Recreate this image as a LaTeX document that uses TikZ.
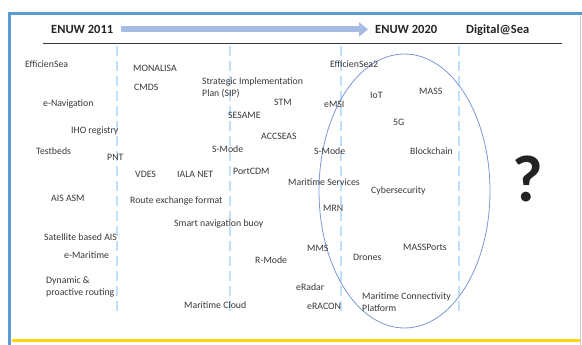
\documentclass[tikz,border=0pt]{standalone}
\usepackage{fontspec}
\setmainfont{Carlito}
\usetikzlibrary{arrows.meta}
\definecolor{framebl}{RGB}{91,155,213}
\definecolor{sepbl}{RGB}{190,224,250}
\definecolor{ellbl}{RGB}{122,150,212}
\definecolor{arrbl}{RGB}{166,188,226}
\definecolor{txtgr}{RGB}{55,55,55}
\definecolor{hdrgr}{RGB}{35,35,35}
\definecolor{goldln}{RGB}{255,214,10}
\tikzset{lbl/.style={anchor=base west,inner sep=0pt,text=txtgr,align=left,font=\fontsize{9.8}{12}\selectfont},
  hdr/.style={anchor=base west,inner sep=0pt,text=hdrgr,font=\bfseries\fontsize{12.5}{14}\selectfont},
  sepline/.style={sepbl,line width=1.4pt,dash pattern=on 10pt off 5pt},
  timearrow/.style={arrbl,line width=6pt,-{Triangle[length=9pt,width=14pt]}}}

\begin{document}
\begin{tikzpicture}[x=1pt,y=-1pt]
\useasboundingbox (0,0) rectangle (582,345);
% frame of the slide
\draw[framebl,line width=2.5pt] (8,13.5)--(582,13.5);
\draw[framebl,line width=3.5pt] (9.5,12.5)--(9.5,345);
\draw[gray!40,line width=.6pt] (580.5,15)--(580.5,345);
\draw[goldln,line width=2.2pt] (11.5,340.5)--(580,340.5);

% time line
\node[hdr] (enuw11) at (51,33.5) {ENUW 2011};
\node[hdr] (enuw20) at (375,33.5) {ENUW 2020};
\node[hdr] (digsea) at (466,33.5) {Digital@Sea};
\draw[timearrow,shorten <=8pt,shorten >=7pt] (enuw11.east)--(enuw20.west);
\draw[txtgr,line width=.9pt] (43,43)--(562,43);
\foreach \x in {117,230,341,459}
  \draw[sepline] (\x,46)--(\x,313);
\draw[ellbl,line width=.8pt] (404.5,191) ellipse [x radius=85.5,y radius=137];

% first column
\node[lbl] (effsea) at (25,67.2) {EfficienSea};
\node[lbl] (enav) at (43,106.2) {e-Navigation};
\node[lbl] (iho) at (71,133.2) {IHO registry};
\node[lbl] (testbeds) at (36,154.2) {Testbeds};
\node[lbl] (pnt) at (107,160.2) {PNT};
\node[lbl] (aisasm) at (51,201.2) {AIS ASM};
\node[lbl] (satais) at (44,240.2) {Satellite based AIS};
\node[lbl] (emar) at (64,258.2) {e-Maritime};
\node[lbl] (dynrout) at (46,295.2) {Dynamic \&\\proactive routing};

% second column
\node[lbl] (monalisa) at (133,71.2) {MONALISA};
\node[lbl] (cmds) at (134,90.2) {CMDS};
\node[lbl] (vdes) at (135,177.2) {VDES};
\node[lbl] (ialanet) at (177,177.2) {IALA NET};
\node[lbl] (routex) at (130,203.2) {Route exchange format};
\node[lbl] (buoy) at (174,226.2) {Smart navigation buoy};
\node[lbl] (marcloud) at (184,308.2) {Maritime Cloud};

% third column
\node[lbl] (sip) at (202,96.2) {Strategic Implementation\\Plan (SIP)};
\node[lbl] (stm) at (274,105.2) {STM};
\node[lbl] (sesame) at (228,118.2) {SESAME};
\node[lbl] (accseas) at (261,139.2) {ACCSEAS};
\node[lbl] (smode) at (212,152.2) {S-Mode};
\node[lbl] (portcdm) at (233,174.2) {PortCDM};
\node[lbl] (marserv) at (288,185.2) {Maritime Services};
\node[lbl] (rmode) at (255,263.2) {R-Mode};
\node[lbl] (mrn) at (323,211.2) {MRN};
\node[lbl] (mms) at (307,251.2) {MMS};
\node[lbl] (eradar) at (296,290.2) {eRadar};
\node[lbl] (eracon) at (307,309.2) {eRACON};

% fourth column
\node[lbl] (effsea2) at (330,67.2) {EfficienSea2};
\node[lbl] (emsi) at (324,107.2) {eMSI};
\node[lbl] (iot) at (370,98.2) {IoT};
\node[lbl] (mass) at (419,94.2) {MASS};
\node[lbl] (fiveg) at (393,125.2) {5G};
\node[lbl] (smodeb) at (314,154.2) {S-Mode};
\node[lbl] (blockch) at (410,154.2) {Blockchain};
\node[lbl] (cyber) at (371,193.2) {Cybersecurity};
\node[lbl] (drones) at (353,260.2) {Drones};
\node[lbl] (massports) at (403,250.2) {MASSPorts};
\node[lbl] (mcp) at (362,311.2) {Maritime Connectivity\\Platform};

% what comes next
\node[text=hdrgr,font=\bfseries\fontsize{66}{66}\selectfont,inner sep=0pt] (next) at (527.5,179) {?};
\end{tikzpicture}
\end{document}
